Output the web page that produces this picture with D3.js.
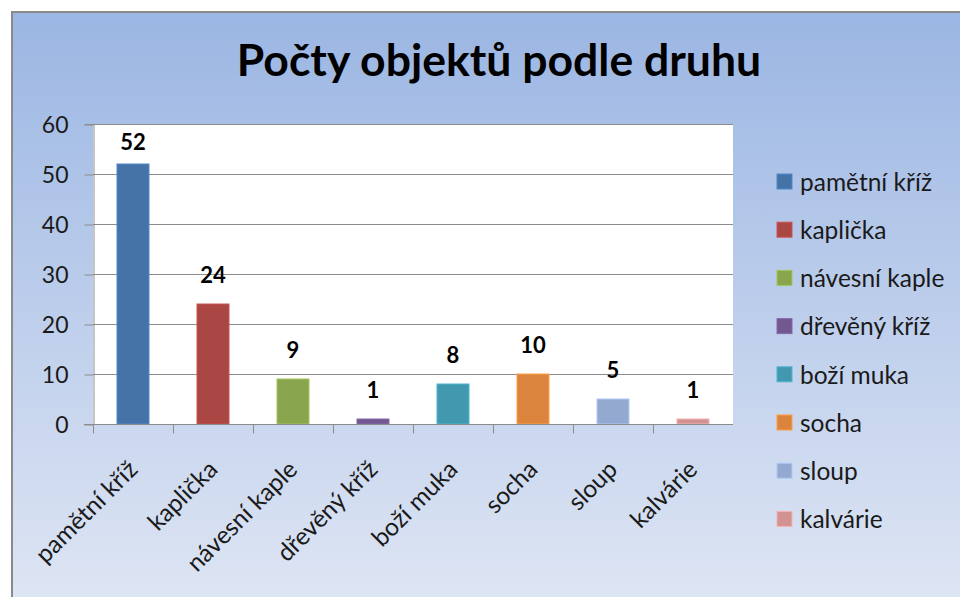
<!DOCTYPE html>
<html>
<head>
<meta charset="utf-8">
<script src="https://cdn.jsdelivr.net/npm/d3@7"></script>
<style>
  html, body { margin: 0; padding: 0; background: #ffffff; }
  svg { display: block; }
</style>
</head>
<body>
<svg id="chart" width="960" height="597"></svg>
<script>
// ---- data ----
const categories = ["pamětní kříž", "kaplička", "návesní kaple", "dřevěný kříž", "boží muka", "socha", "sloup", "kalvárie"];
const values = [52, 24, 9, 1, 8, 10, 5, 1];
const colors = ["#4572a7", "#aa4643", "#89a54e", "#71588f", "#4198af", "#db843d", "#93a9cf", "#d19392"];
const yTicks = [0, 10, 20, 30, 40, 50, 60];
const title = "Počty objektů podle druhu";

const FONT = "Lato, 'Open Sans', sans-serif";
const svg = d3.select("#chart");
const W = 960, H = 597;

// background gradient
const defs = svg.append("defs");
const grad = defs.append("linearGradient").attr("id", "bg").attr("x1", 0).attr("y1", 0).attr("x2", 0).attr("y2", 1);
grad.append("stop").attr("offset", "0%").attr("stop-color", "#9bb6e3");
grad.append("stop").attr("offset", "100%").attr("stop-color", "#dfe6f4");

svg.append("rect").attr("x", 12).attr("y", 12).attr("width", W).attr("height", H)
  .attr("fill", "url(#bg)").attr("stroke", "#8a8a8a").attr("stroke-width", 2);

// plot area
const m = { left: 93, right: 733, top: 124, bottom: 424 };
const x = d3.scaleBand().domain(categories).range([m.left, m.right]).paddingInner(0.6).paddingOuter(0.3);
const xb = d3.scaleBand().domain(categories).range([m.left, m.right]).padding(0);
const y = d3.scaleLinear().domain([0, 60]).range([m.bottom, m.top]);

svg.append("rect").attr("x", m.left).attr("y", m.top).attr("width", m.right - m.left).attr("height", m.bottom - m.top)
  .attr("fill", "#ffffff");

// gridlines
svg.append("g").selectAll("line").data(yTicks.filter(d => d > 0)).join("line")
  .attr("x1", m.left).attr("x2", m.right)
  .attr("y1", d => y(d) + 0.5).attr("y2", d => y(d) + 0.5)
  .attr("stroke", "#8c8c8c").attr("stroke-width", 1);

// y axis
const yAxis = svg.append("g").attr("transform", `translate(${m.left + 0.5},0)`)
  .call(d3.axisLeft(y).tickValues(yTicks).tickSize(9).tickPadding(16).tickFormat(d3.format("d")));
yAxis.select(".domain").attr("stroke", "#8c8c8c");
yAxis.selectAll(".tick line").attr("stroke", "#8c8c8c").attr("transform", "translate(0,0.5)");
yAxis.selectAll(".tick text").attr("font-family", FONT).attr("font-size", 23).attr("fill", "#1a1a1a")
  .attr("dy", "0.36em");

// bars
svg.append("g").selectAll("rect").data(values).join("rect")
  .attr("x", (d, i) => x(categories[i]))
  .attr("y", d => y(d))
  .attr("width", x.bandwidth())
  .attr("height", d => y(0) - y(d))
  .attr("fill", (d, i) => colors[i])
  .attr("stroke", (d, i) => d3.color(colors[i]).brighter(0.5))
  .attr("stroke-width", 1);

// x axis
const xAxisG = svg.append("g").attr("transform", `translate(0,${m.bottom + 0.5})`);
xAxisG.append("line").attr("x1", m.left - 9).attr("x2", m.right).attr("stroke", "#8c8c8c");
const xTickPos = categories.map(c => xb(c));
xAxisG.selectAll("line.tk").data(xTickPos).join("line").attr("class", "tk")
  .attr("x1", d => d + 0.5).attr("x2", d => d + 0.5).attr("y1", 0).attr("y2", 9)
  .attr("stroke", "#8c8c8c");

// x labels rotated
svg.append("g").selectAll("text").data(categories).join("text")
  .attr("transform", d => `translate(${xb(d) + xb.bandwidth() / 2 + 6},${m.bottom + 47}) rotate(-45)`)
  .attr("text-anchor", "end")
  .attr("font-family", FONT).attr("font-size", 24.5).attr("fill", "#1a1a1a")
  .text(d => d);

// value labels
svg.append("g").selectAll("text").data(values).join("text")
  .attr("x", (d, i) => x(categories[i]) + x.bandwidth() / 2)
  .attr("y", d => Math.max(y(d) - 21, m.top + 26))
  .attr("text-anchor", "middle")
  .attr("font-family", FONT).attr("font-size", 22).attr("font-weight", "bold").attr("fill", "#000")
  .text(d => d);

// title
svg.append("text").attr("x", 499).attr("y", 76).attr("text-anchor", "middle")
  .attr("font-family", FONT).attr("font-weight", "bold").attr("font-size", 44.5).attr("fill", "#000")
  .text(title);

// legend
const lg = svg.append("g");
const rows = lg.selectAll("g").data(categories).join("g")
  .attr("transform", (d, i) => `translate(777,${174 + i * 48.2})`);
rows.append("rect").attr("width", 15).attr("height", 15)
  .attr("fill", (d, i) => colors[i]).attr("stroke", (d, i) => d3.color(colors[i]).brighter(0.5)).attr("stroke-width", 1);
rows.append("text").attr("x", 23).attr("y", 8).attr("dy", "0.36em")
  .attr("font-family", FONT).attr("font-size", 24.5).attr("fill", "#1a1a1a")
  .text(d => d);
</script>
</body>
</html>
